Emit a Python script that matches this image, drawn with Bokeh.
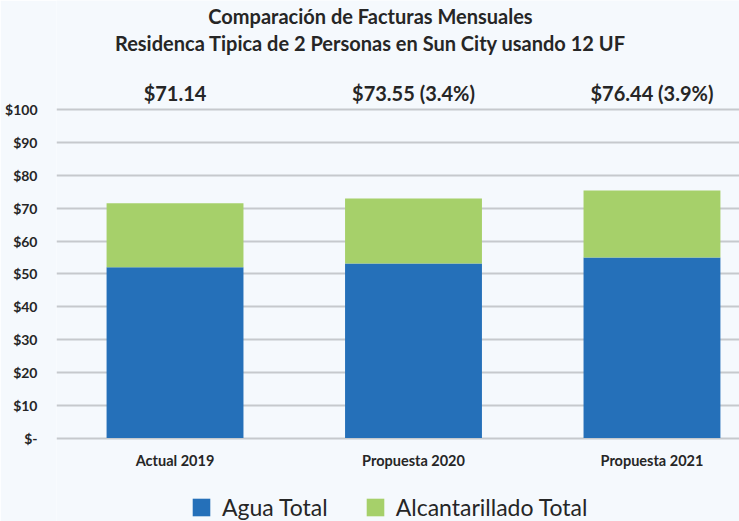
from bokeh.plotting import figure
from bokeh.models import (Range1d, FixedTicker, Legend, LegendItem, Label, ColumnDataSource, Grid)
from bokeh.core.properties import value
from bokeh.embed import file_html
from bokeh.resources import INLINE

# ---- data ----
categories = ["Actual 2019", "Propuesta 2020", "Propuesta 2021"]
agua_total = [52.0, 53.2, 55.0]
alcantarillado_total = [19.5, 19.8, 20.4]
total_labels = ["$71.14", "$73.55 (3.4%)", "$76.44 (3.9%)"]
y_ticks = [0, 10, 20, 30, 40, 50, 60, 70, 80, 90, 100]
y_tick_labels = ["$-", "$10", "$20", "$30", "$40", "$50", "$60", "$70", "$80", "$90", "$100"]
series_names = ["Agua Total", "Alcantarillado Total"]
title_lines = ["Comparación de Facturas Mensuales",
               "Residenca Tipica de 2 Personas en Sun City usando 12 UF"]
colors = ["#2570B9", "#A6D06A"]

FONT = "Lato"
TEXT = "#262626"
BG = "#F5F9FD"

xs = list(range(len(categories)))
src = ColumnDataSource(dict(x=xs, agua=agua_total, alc=alcantarillado_total,
                            lab=total_labels, cat=categories))

p = figure(frame_width=683, frame_height=521, output_backend="svg", toolbar_location=None,
           x_range=Range1d(-0.497, 2.367), y_range=Range1d(-25.44, 133.31),
           x_axis_location=None,
           min_border_left=56, min_border_right=0, min_border_top=0,
           min_border_bottom=0)
p.background_fill_color = BG
p.border_fill_color = BG
p.outline_line_color = None

rs = p.vbar_stack(["agua", "alc"], x="x", width=0.574, source=src,
                  color=colors, line_color=None)

# total labels above bars
p.text(x="x", y=105, text="lab", source=src, text_align="center",
       text_baseline="middle", text_font=value(FONT), text_font_style="bold",
       text_font_size="20px", text_color=TEXT)

# category labels just below the zero line
p.text(x="x", y=0, text="cat", source=src, y_offset=22, text_align="center",
       text_baseline="middle", text_font=value(FONT), text_font_style="bold",
       text_font_size="14.5px", text_color=TEXT)

# y axis
p.yaxis.ticker = FixedTicker(ticks=y_ticks)
p.yaxis.major_label_overrides = {t: l for t, l in zip(y_ticks, y_tick_labels)}
p.yaxis.axis_line_color = None
p.yaxis.major_tick_line_color = None
p.yaxis.minor_tick_line_color = None
p.yaxis.major_label_text_font = FONT
p.yaxis.major_label_text_font_style = "bold"
p.yaxis.major_label_text_font_size = "14px"
p.yaxis.major_label_text_color = TEXT
p.yaxis.major_label_standoff = 13

# only horizontal grid lines
for g in p.select(type=Grid):
    if g.dimension == 0:
        g.visible = False
        g.grid_line_color = None
    else:
        g.grid_line_color = "#C6C9CD"
        g.grid_line_width = 2

# titles (screen px measured from the frame's bottom-left corner)
for txt, ty in zip(title_lines, [506, 479]):
    p.add_layout(Label(x=314, y=ty, x_units="screen", y_units="screen", text=txt,
                       text_align="center", text_baseline="middle",
                       text_font=FONT, text_font_size="20px",
                       text_font_style="bold", text_color=TEXT))

legend = Legend(items=[LegendItem(label=n, renderers=[r]) for n, r in zip(series_names, rs)],
                orientation="horizontal", location=(134, 0),
                glyph_width=22, glyph_height=22, label_text_font=FONT,
                label_text_font_size="23px", label_text_color=TEXT,
                label_standoff=10, spacing=36, padding=0, margin=0,
                background_fill_alpha=0, border_line_alpha=0)
p.add_layout(legend, "center")

open("out.html", "w").write(file_html(p, INLINE))
